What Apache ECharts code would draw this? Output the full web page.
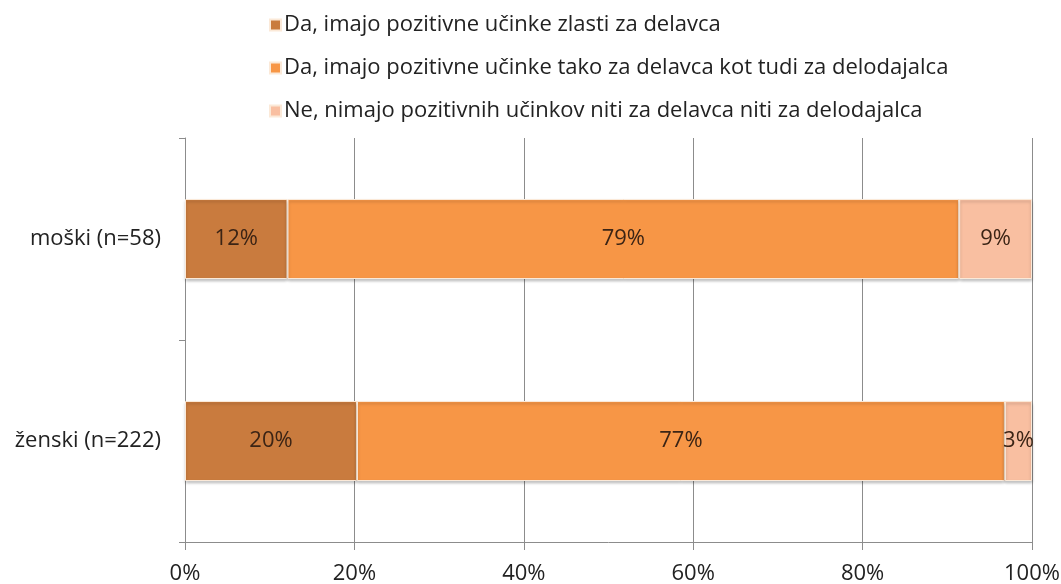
<!DOCTYPE html>
<html>
<head>
<meta charset="utf-8">
<script src="https://cdn.jsdelivr.net/npm/echarts@6/dist/echarts.min.js"></script>
<style>html,body{margin:0;padding:0;background:#fff;}#c{width:1061px;height:584px;}</style>
</head>
<body>
<div id="c"></div>
<script>
var categories = ['moški (n=58)', 'ženski (n=222)'];
var seriesNames = [
  'Da, imajo pozitivne učinke zlasti za delavca',
  'Da, imajo pozitivne učinke tako za delavca kot tudi za delodajalca',
  'Ne, nimajo pozitivnih učinkov niti za delavca niti za delodajalca'
];
var zlastiDelavca = [12.1, 20.3];
var obaDva = [79.3, 76.5];
var nimajo = [8.6, 3.2];
var xTicks = ['0%', '20%', '40%', '60%', '80%', '100%'];

var colors = ['#c97b3e', '#f79646', '#f9bfa1'];
var values = [zlastiDelavca, obaDva, nimajo];
var font = '"Open Sans", sans-serif';
var fs = 22;

var chart = echarts.init(document.getElementById('c'));
chart.setOption({
  animation: false,
  color: colors,
  textStyle: {fontFamily: font},
  legend: {
    orient: 'vertical',
    left: 264,
    top: 9,
    itemWidth: 11,
    itemHeight: 11,
    itemGap: 21,
    icon: 'rect',
    textStyle: {fontSize: fs, color: '#222', fontFamily: font, padding: [0, 0, 0, -2]},
    data: seriesNames
  },
  grid: {left: 185, right: 29, top: 138, bottom: 42, containLabel: false, outerBoundsMode: 'none'},
  xAxis: {
    type: 'value',
    min: 0, max: 100, interval: 20,
    axisLine: {show: true, lineStyle: {color: '#8c8c8c', width: 1}},
    axisTick: {show: true, length: 8, lineStyle: {color: '#8c8c8c'}},
    splitLine: {show: true, lineStyle: {color: '#8c8c8c', width: 1}},
    axisLabel: {
      fontSize: fs, color: '#222', fontFamily: font, margin: 21,
      formatter: function (v) { return xTicks[Math.round(v / 20)]; }
    }
  },
  yAxis: {
    type: 'category',
    inverse: true,
    data: categories,
    axisLine: {show: true, lineStyle: {color: '#8c8c8c', width: 1}},
    axisTick: {show: true, length: 6, inside: false, lineStyle: {color: '#8c8c8c'}},
    axisLabel: {fontSize: fs, color: '#222', fontFamily: font, margin: 24}
  },
  series: seriesNames.map(function (name, i) {
    return {
      name: name,
      type: 'bar',
      stack: 'total',
      barWidth: 80,
      data: values[i],
      itemStyle: {
        color: colors[i],
        borderColor: '#fbe9d8',
        borderWidth: 1,
        shadowColor: 'rgba(0,0,0,0.25)',
        shadowBlur: 3,
        shadowOffsetY: 2
      },
      label: {
        show: true,
        position: 'inside',
        fontSize: fs,
        color: '#3b2415',
        fontFamily: font,
        formatter: function (p) { return Math.round(p.value) + '%'; }
      }
    };
  })
});
</script>
</body>
</html>
